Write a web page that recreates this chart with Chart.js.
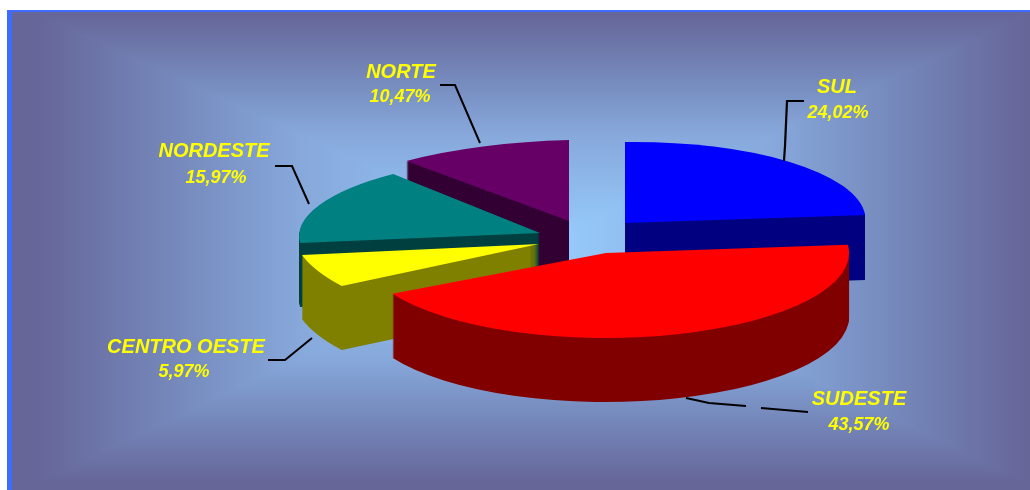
<!DOCTYPE html>
<html><head><meta charset="utf-8">
<style>html,body{margin:0;padding:0;background:#fff}canvas{display:block}</style>
<script src="https://cdn.jsdelivr.net/npm/chart.js@4"></script>
</head><body>
<canvas id="c" width="1030" height="490"></canvas>
<script>
const categories = ["SUL", "SUDESTE", "CENTRO OESTE", "NORDESTE", "NORTE"];
const shares = [24.02, 43.57, 5.97, 15.97, 10.47];
const topColors = ["#0000ff", "#ff0000", "#ffff00", "#008080", "#660066"];
const sideColors = ["#000080", "#800000", "#808000", "#004040", "#330033"];
const drawOrder = [4, 0, 3, 2, 1];
// flattened-and-exploded placement of each wedge: x-radius, shear x, shear y, y-radius, apex x, apex y, depth
const frames = [
  [240.5, 0, -3, 81, 625, 223, 65],
  [243, 8, -3, 85, 606, 253, 64],
  [241.8, 42, -3.1, 87.4, 539, 244, 64],
  [240.9, -0.6, -3, 77, 540, 233, 64],
  [266, 0, -6.5, 81, 569, 221, 65]
];
const nameCenters = [[837, 87], [859, 399], [186, 347], [214, 151], [401, 72]];
const valueCenters = [[838, 113], [859, 425], [184, 372], [216, 178], [400, 97]];
const leaders = [
  [[804, 101], [787, 101], [785, 146], [784, 161]],
  [[686, 398], [709, 403], [746, 406]],
  [[761, 408], [808, 412]],
  [[268, 360], [285, 360], [312, 338]],
  [[275, 166], [292, 166], [309, 204]],
  [[440, 85], [455, 85], [480, 143]]
];
const leaderWidths = [2.2, 2, 2, 2, 2, 2];
const panelEdge = "#3f6bff", panelDark = "#666699";
const rampStops = [[0, "#99ccff"], [0.12, "#93c4f6"], [0.48, "#87a8db"], [0.67, "#7990c3"], [1, "#666699"]];

const scene = {
  id: "scene",
  beforeDraw(chart) {
    const g = chart.ctx;
    const x0 = 40, x1 = 1025, y0 = 15, y1 = 482, cx = 540, cy = 245;
    g.save();
    g.fillStyle = panelDark; g.fillRect(7, 10, 1023, 480);
    const tri = (pts, from, to) => {
      const lg = g.createLinearGradient(from[0], from[1], to[0], to[1]);
      rampStops.forEach(s => lg.addColorStop(s[0], s[1]));
      g.fillStyle = lg;
      g.beginPath();
      pts.forEach((p, n) => n ? g.lineTo(p[0], p[1]) : g.moveTo(p[0], p[1]));
      g.closePath(); g.fill();
    };
    // side regions are widened slightly so the later regions cover their shared edges without a seam
    tri([[cx + 4, cy], [x0, y0 - 2], [x0, y1 + 2]], [cx, cy], [x0, cy]);
    tri([[cx - 4, cy], [x1, y0 - 2], [x1, y1 + 2]], [cx, cy], [x1, cy]);
    tri([[cx, cy], [x0, y0], [x1, y0]], [cx, cy], [cx, y0]);
    tri([[cx, cy], [x0, y1], [x1, y1]], [cx, cy], [cx, y1]);
    g.fillStyle = panelEdge;
    g.fillRect(7, 10, 1023, 2);
    g.fillRect(7, 10, 5, 480);
    g.restore();
  },
  beforeDatasetDraw(chart) {
    const g = chart.ctx, meta = chart.getDatasetMeta(0);
    drawOrder.forEach(i => {
      const arc = meta.data[i], f = frames[i], R = arc.outerRadius;
      const base = arc.options;
      const paint = (dy, color) => {
        arc.options = Object.assign({}, base, { backgroundColor: color });
        g.save();
        g.transform(f[0] / R, f[2] / R, f[1] / R, f[3] / R, f[4], f[5] + dy);
        g.translate(-arc.x, -arc.y);
        arc.draw(g);
        g.restore();
      };
      for (let d = f[6]; d >= 1; d--) paint(d, sideColors[i]);
      paint(0, topColors[i]);
      arc.options = base;
    });
    return false;
  },
  afterDatasetsDraw(chart) {
    const g = chart.ctx;
    g.save();
    g.strokeStyle = "#000";
    leaders.forEach((pts, k) => {
      g.lineWidth = leaderWidths[k];
      g.beginPath();
      pts.forEach((p, n) => n ? g.lineTo(p[0], p[1]) : g.moveTo(p[0], p[1]));
      g.stroke();
    });
    g.fillStyle = "#ffff00";
    g.textAlign = "center"; g.textBaseline = "middle";
    categories.forEach((name, i) => {
      g.font = 'italic bold 20px "Liberation Sans"';
      g.fillText(name, nameCenters[i][0], nameCenters[i][1]);
      g.font = 'italic bold 18px "Liberation Sans"';
      g.fillText(shares[i].toFixed(2).replace(".", ",") + "%", valueCenters[i][0], valueCenters[i][1]);
    });
    g.restore();
  }
};

new Chart(document.getElementById("c"), {
  type: "pie",
  data: { labels: categories, datasets: [{ data: shares, backgroundColor: topColors, borderWidth: 0 }] },
  options: {
    responsive: false, animation: false, devicePixelRatio: 1,
    rotation: 0,
    plugins: { legend: { display: false }, tooltip: { enabled: false }, title: { display: false } }
  },
  plugins: [scene]
});
</script>
</body></html>
